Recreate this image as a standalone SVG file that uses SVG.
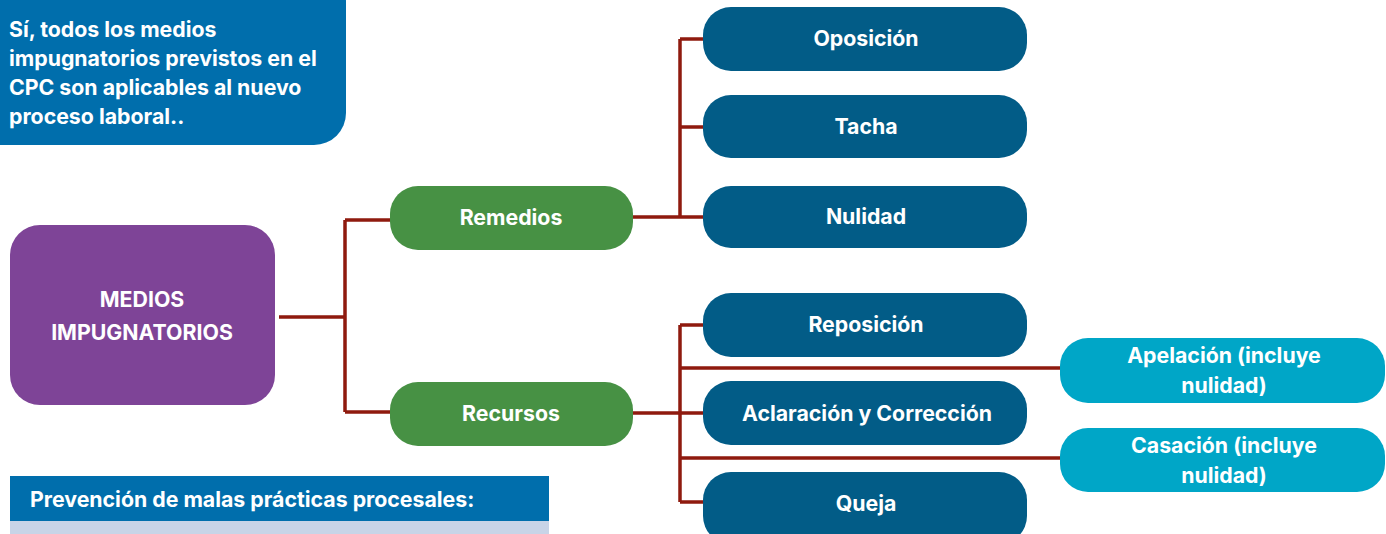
<svg xmlns="http://www.w3.org/2000/svg" width="1386" height="534" viewBox="0 0 1386 534">
<style>
text{font-family:Inter,"Open Sans","Liberation Sans",sans-serif;font-weight:700;fill:#fff;font-size:21.3px}
.c{text-anchor:middle}
.dark{fill:#025C87}
.cyan{fill:#00A6C7}
.green{fill:#479144}
.conn{fill:none;stroke:#8F1A0E;stroke-width:3.5}
</style>
<rect width="1386" height="534" fill="#fff"/>
<g id="intro">
<rect x="-40" y="-30" width="386" height="175" rx="32" fill="#006EAC"/>
<text x="9" y="37">Sí, todos los medios</text>
<text x="9" y="66">impugnatorios previstos en el</text>
<text x="9" y="95">CPC son aplicables al nuevo</text>
<text x="9" y="124">proceso laboral..</text>
</g>
<g id="connectors" class="conn">
<path d="M279 317H345M345 220V412M345 220H392M345 412H392"/>
<path d="M633 217H705M680 39V217M680 39H705M680 127H705"/>
<path d="M633 413H705M680 325V502M680 325H705M680 502H705M680 368H1062M680 458H1062"/>
</g>
<g id="medios">
<rect x="10" y="225" width="265" height="180" rx="30" fill="#7E4497"/>
<text class="c" x="142" y="307" font-size="20.2">MEDIOS</text>
<text class="c" x="142" y="340" font-size="20.2">IMPUGNATORIOS</text>
</g>
<g id="remedios">
<rect class="green" x="390" y="186" width="243" height="64" rx="28"/>
<text class="c" x="511" y="225">Remedios</text>
</g>
<g id="recursos">
<rect class="green" x="390" y="382" width="243" height="64" rx="28"/>
<text class="c" x="511" y="421">Recursos</text>
</g>
<g id="oposicion">
<rect class="dark" x="703" y="7" width="324" height="64" rx="28"/>
<text class="c" x="866" y="46">Oposición</text>
</g>
<g id="tacha">
<rect class="dark" x="703" y="95" width="324" height="63" rx="28"/>
<text class="c" x="866" y="134">Tacha</text>
</g>
<g id="nulidad">
<rect class="dark" x="703" y="186" width="324" height="62" rx="28"/>
<text class="c" x="866" y="224">Nulidad</text>
</g>
<g id="reposicion">
<rect class="dark" x="703" y="293" width="324" height="64" rx="28"/>
<text class="c" x="866" y="332">Reposición</text>
</g>
<g id="aclaracion">
<rect class="dark" x="703" y="381" width="324" height="64" rx="28"/>
<text class="c" x="867" y="421">Aclaración y Corrección</text>
</g>
<g id="queja">
<rect class="dark" x="703" y="472" width="324" height="72" rx="28"/>
<text class="c" x="866" y="511">Queja</text>
</g>
<g id="apelacion">
<rect class="cyan" x="1060" y="338" width="325" height="65" rx="28"/>
<text class="c" x="1224" y="363">Apelación (incluye</text>
<text class="c" x="1224" y="393">nulidad)</text>
</g>
<g id="casacion">
<rect class="cyan" x="1060" y="428" width="325" height="64" rx="28"/>
<text class="c" x="1224" y="453">Casación (incluye</text>
<text class="c" x="1224" y="483">nulidad)</text>
</g>
<g id="prevencion">
<rect x="10" y="476" width="539" height="45" fill="#006EAC"/>
<rect x="10" y="521" width="539" height="13" fill="#C8D4E7"/>
<text x="30" y="507" font-size="20.2">Prevención de malas prácticas procesales:</text>
</g>
</svg>
